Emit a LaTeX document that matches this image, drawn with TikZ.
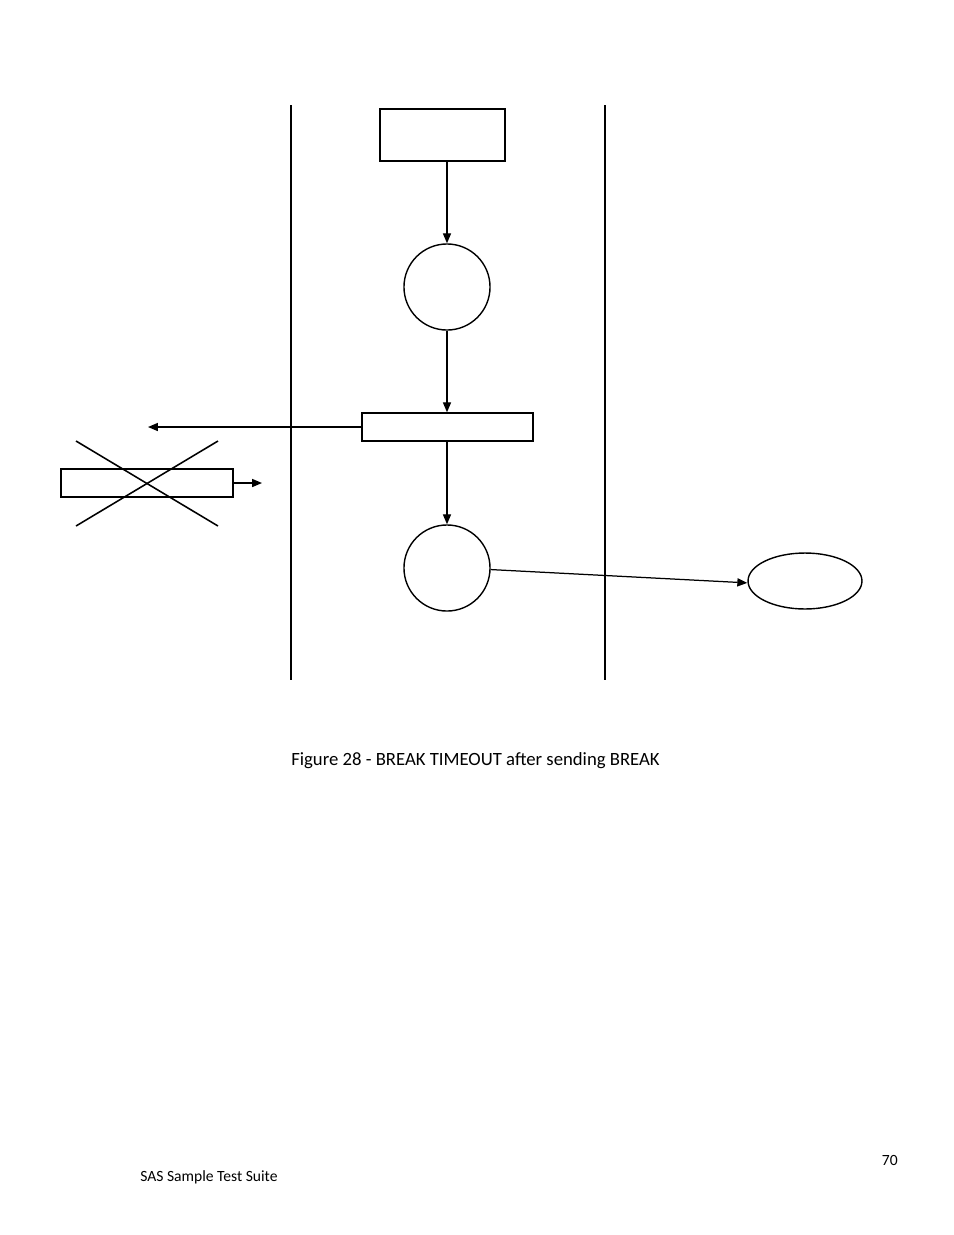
\documentclass[tikz,border=0pt]{standalone}
\usepackage{fontspec}
\setmainfont{Carlito}
\usetikzlibrary{arrows.meta,shapes.geometric}
\begin{document}
\begin{tikzpicture}[x=0.6415pt,y=-0.6415pt,
  shape line/.style={draw=black,line width=0.9pt,inner sep=0pt,fill=white},
  boxshape/.style={shape line,rectangle},
  roundshape/.style={shape line,circle,minimum size=55.2pt},
  ovalshape/.style={shape line,ellipse,minimum width=73.1pt,minimum height=35.9pt},
  arr/.style={line width=0.8pt,-{Triangle[length=6.4pt,width=5.2pt]}},
  lane/.style={line width=0.7pt},
  lanethick/.style={line width=1.6pt}]
\useasboundingbox (0,0) rectangle (954,1235);
% swimlanes
\coordinate (l1t) at (291,105); \coordinate (l1b) at (291,680);
\coordinate (l2t) at (605,105); \coordinate (l2b) at (605,680);
\draw[lane] (l1t) -- (l1b);
\draw[lanethick] (l2t) -- (l2b);
% nodes
\node[boxshape,minimum width=80.2pt,minimum height=33.4pt] (r1) at (442.5,135) {};
\node[roundshape] (c1) at (447,287) {};
\node[boxshape,minimum width=109.7pt,minimum height=18pt] (r2) at (447.5,427) {};
\node[roundshape] (c2) at (447,568) {};
\node[ovalshape] (e1) at (805,581) {};
\node[boxshape,minimum width=110.3pt,minimum height=18pt] (xr) at (147,483) {};
% free ends
\coordinate (leftend) at (148,427);
\coordinate (xrend) at (262,483);
\coordinate (xa) at (76,441); \coordinate (xb) at (218,526);
\coordinate (xc) at (76,526); \coordinate (xd) at (218,441);
% connectors
\draw[arr] (r1.south -| c1.north) -- (c1.north);
\draw[arr] (c1.south) -- (c1.south |- r2.north);
\draw[arr] (r2.west) -- (leftend);
\draw[arr] (r2.south -| c2.north) -- (c2.north);
\draw[arr] ([yshift=-1pt]c2.east) -- ([yshift=-1.2pt]e1.west);
\draw[arr] (xr.east) -- (xrend);
% cross
\draw[line width=1pt] (xa) -- (xb);
\draw[line width=1pt] (xc) -- (xd);
% texts
\node[font=\fontsize{12}{14}\selectfont,anchor=base] (cap) at (475.5,765) {Figure 28 - BREAK TIMEOUT after sending BREAK};
\node[font=\fontsize{10}{12}\selectfont,anchor=base west,inner sep=0pt] (foot) at (140,1181) {SAS Sample Test Suite};
\node[font=\fontsize{10}{12}\selectfont,anchor=base east,inner sep=0pt] (pg) at (898,1165) {70};
\end{tikzpicture}
\end{document}
